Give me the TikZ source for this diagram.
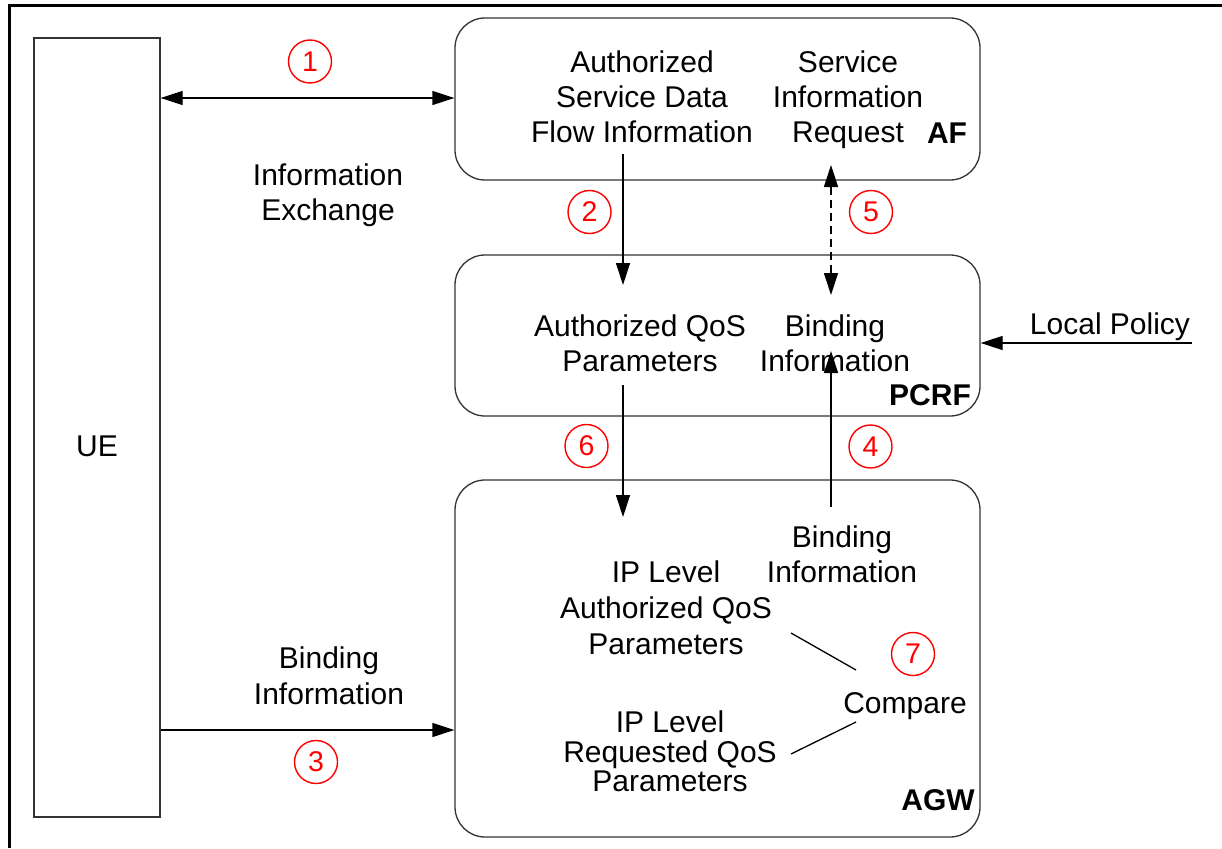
\documentclass[tikz,border=0pt]{standalone}
\usepackage{fontspec}
\setmainfont{Liberation Sans}
\usetikzlibrary{arrows.meta}
% stacked, centred lines whose baseline is that of the first line
\newcommand{\stk}[2]{{\renewcommand{\arraystretch}{#1}\begin{tabular}[t]{@{}c@{}}#2\end{tabular}}}
% step digit, set a little low inside its circle
\newcommand{\stepdigit}[1]{\raisebox{-1.5pt}{#1}}
\begin{document}
\begin{tikzpicture}[x=1pt,y=-1pt,
  lbl/.style={inner sep=0pt,anchor=base,font=\fontsize{30}{35}\selectfont},
  tag/.style={inner sep=0pt,anchor=base,font=\fontsize{30}{35}\selectfont\bfseries},
  entity/.style={draw=black!80,line width=1.3pt,rounded corners=30pt,inner sep=0pt},
  numcirc/.style={circle,draw=red,line width=1.4pt,minimum size=43pt,inner sep=0pt,
    text=red,font=\fontsize{28.5}{28.5}\selectfont},
  flow/.style={line width=1.3pt,-{Triangle[length=22pt,width=14pt]}},
  biflow/.style={line width=1.3pt,{Triangle[length=22pt,width=14pt]}-{Triangle[length=22pt,width=14pt]}},
  link/.style={line width=1.3pt}]
\useasboundingbox (0,0) rectangle (1222,848);
\fill[white] (0,0) rectangle (1222,848);
% outer frame
\draw[line width=3pt] (9.5,848) -- (9.5,6) -- (1222,6);

% network entities
\node[draw=black!80,line width=1.3pt,minimum width=126pt,minimum height=779pt,inner sep=0pt]
  (ue) at (97,427.5) {};
\node[lbl] (uetext) at (97,456) {UE};
\node[entity,minimum width=525pt,minimum height=162pt] (af) at (717.5,99) {};
\node[entity,minimum width=525pt,minimum height=161pt] (pcrf) at (717.5,335.5) {};
\node[entity,minimum width=525pt,minimum height=357pt] (agw) at (717.5,658.5) {};

% AF contents
\node[lbl] (afdata) at (642,73) {\stk{1}{Authorized\\Service Data\\Flow Information}};
\node[lbl] (afreq) at (848,73) {\stk{1}{Service\\Information\\Request}};
\node[tag] (aftag) at (947,143) {AF};

% PCRF contents
\node[lbl] (pcrfqos) at (640,336) {\stk{1}{Authorized QoS\\Parameters}};
\node[lbl] (pcrfbind) at (835,336) {\stk{1}{Binding\\Information}};
\node[tag] (pcrftag) at (930,405) {PCRF};
\node[lbl] (policy) at (1110,334) {Local Policy};

% AGW contents
\node[lbl] (agwbind) at (842,547) {\stk{1}{Binding\\Information}};
\node[lbl] (agwauth) at (666,582) {\stk{1.04}{IP Level\\Authorized QoS\\Parameters}};
\node[lbl] (agwreq) at (670,732) {\stk{0.8}{IP Level\\Requested QoS\\Parameters}};
\node[lbl] (compare) at (905,713) {Compare};
\node[tag] (agwtag) at (938,810) {AGW};

% labels between UE and the entities
\node[lbl] (exch) at (328,185) {\stk{1}{Information\\Exchange}};
\node[lbl] (uebind) at (329,668) {\stk{1.05}{Binding\\Information}};

% step numbers
\node[numcirc] (n1) at (310,61.5) {\stepdigit{1}};
\node[numcirc] (n2) at (589.5,212) {\stepdigit{2}};
\node[numcirc] (n3) at (316,762) {\stepdigit{3}};
\node[numcirc] (n4) at (870.5,446.5) {\stepdigit{4}};
\node[numcirc] (n5) at (871,212) {\stepdigit{5}};
\node[numcirc] (n6) at (586.5,446) {\stepdigit{6}};
\node[numcirc] (n7) at (913,654) {\stepdigit{7}};

% connector end points
\coordinate (x1a) at (ue.east |- 0,98);
\coordinate (x1b) at (af.west |- 0,98);
\coordinate (x2a) at (623,154);
\coordinate (x2b) at (623,285);
\coordinate (x5a) at (831,165);
\coordinate (x5b) at (831,295);
\coordinate (lp) at (1192,343);
\coordinate (lpend) at (pcrf.east |- 0,343);
\coordinate (x6a) at (623,385);
\coordinate (x6b) at (623,517);
\coordinate (x4a) at (831,507);
\coordinate (x4b) at (831,351);
\coordinate (x3a) at (ue.east |- 0,730);
\coordinate (x3b) at (agw.west |- 0,730);
\coordinate (c1a) at (791,633);
\coordinate (c1b) at (856,670);
\coordinate (c2a) at (791,754);
\coordinate (c2b) at (856,722);

% connectors
\draw[biflow] (x1a) -- (x1b);
\draw[flow] (x2a) -- (x2b);
\draw[biflow,dash pattern=on 8pt off 5pt] (x5a) -- (x5b);
\draw[flow] (lp) -- (lpend);
\draw[flow] (x6a) -- (x6b);
\draw[flow] (x4a) -- (x4b);
\draw[flow] (x3a) -- (x3b);
\draw[link] (c1a) -- (c1b);
\draw[link] (c2a) -- (c2b);
\end{tikzpicture}
\end{document}
